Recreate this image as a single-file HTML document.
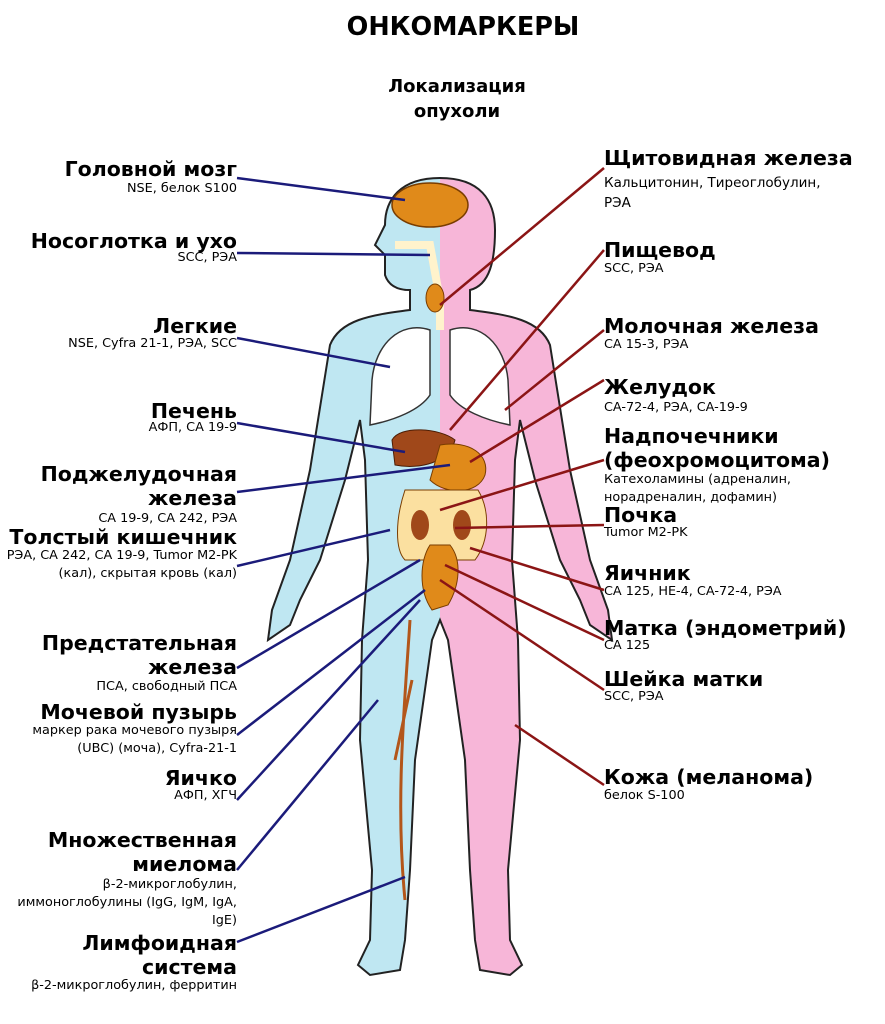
<!DOCTYPE html>
<html><head><meta charset="utf-8"><style>
body{margin:0;width:885px;height:1024px;background:#fff;position:relative;overflow:hidden;font-family:"DejaVu Sans","Liberation Sans",sans-serif;color:#000}
.t{position:absolute;white-space:nowrap}
.h{font-weight:bold;font-size:20.5px;line-height:24px}
.s{font-size:12.8px;line-height:18px}
.L{right:648px;text-align:right}
.R{left:604px;text-align:left}
svg{position:absolute;left:0;top:0}
</style></head><body>
<svg width="885" height="1024">
<defs>
<clipPath id="lc"><rect x="0" y="0" width="440" height="1024"/></clipPath>
<clipPath id="rc"><rect x="440" y="0" width="445" height="1024"/></clipPath>
<path id="body" d="M440,178 C400,178 385,200 385,225 L375,245 L385,255 L385,275 C390,290 405,290 410,290 L410,310 C370,315 340,320 330,345 L310,470 L290,560 L272,610 L268,640 L290,625 L300,600 L320,560 L345,480 L360,420 L365,460 L368,560 L362,640 L360,740 L372,870 L370,940 L358,965 L370,975 L400,970 L405,940 L410,870 L415,760 L432,640 L440,620 L448,640 L465,760 L470,870 L475,940 L480,970 L510,975 L522,965 L510,940 L508,870 L520,740 L518,640 L512,560 L515,460 L520,420 L535,480 L560,560 L580,600 L590,625 L612,640 L608,610 L590,560 L570,470 L550,345 C540,320 510,315 470,310 L470,290 C490,285 495,260 495,230 C495,200 480,178 440,178 Z"/>
</defs>
<use href="#body" fill="#bfe7f2" clip-path="url(#lc)"/>
<use href="#body" fill="#f7b6d8" clip-path="url(#rc)"/>
<use href="#body" fill="none" stroke="#222" stroke-width="2"/>
<ellipse cx="430" cy="205" rx="38" ry="22" fill="#e08a1a" stroke="#7a3d00" stroke-width="1.5"/>
<path d="M395,245 L430,245 L440,300 L440,330" fill="none" stroke="#fff3cc" stroke-width="8"/>
<ellipse cx="435" cy="298" rx="9" ry="14" fill="#e08a1a" stroke="#7a3d00"/>
<path d="M430,330 C400,320 375,345 372,380 L370,425 C395,420 420,410 430,395 Z" fill="#fff" stroke="#333" stroke-width="1.5"/>
<path d="M450,330 C480,320 505,345 508,380 L510,425 C485,420 460,410 450,395 Z" fill="#fff" stroke="#333" stroke-width="1.5"/>
<path d="M392,440 C400,425 440,428 455,440 C450,462 420,470 395,465 Z" fill="#a0481a" stroke="#4d1e05"/>
<path d="M440,445 C470,440 490,455 485,475 C478,495 445,495 430,480 Z" fill="#e08a1a" stroke="#7a3d00"/>
<path d="M405,490 C395,520 395,550 405,560 L475,560 C490,540 490,510 478,490 Z" fill="#fbe0a0" stroke="#7a3d00"/>
<ellipse cx="420" cy="525" rx="9" ry="15" fill="#a0481a"/>
<ellipse cx="462" cy="525" rx="9" ry="15" fill="#a0481a"/>
<path d="M430,545 C420,560 418,590 432,610 L448,605 C460,585 462,560 450,545 Z" fill="#e08a1a" stroke="#7a3d00"/>
<path d="M410,620 C405,700 395,800 405,900 M412,680 L395,760" fill="none" stroke="#b3561a" stroke-width="3"/>
<g stroke="#1b1b7a" stroke-width="2.5" fill="none">
<line x1="237" y1="178" x2="405" y2="200"/>
<line x1="237" y1="253" x2="430" y2="255"/>
<line x1="237" y1="338" x2="390" y2="367"/>
<line x1="237" y1="423" x2="405" y2="452"/>
<line x1="237" y1="492" x2="450" y2="465"/>
<line x1="237" y1="566" x2="390" y2="530"/>
<line x1="237" y1="668" x2="420" y2="560"/>
<line x1="237" y1="735" x2="425" y2="590"/>
<line x1="237" y1="800" x2="420" y2="600"/>
<line x1="237" y1="870" x2="378" y2="700"/>
<line x1="237" y1="942" x2="405" y2="877"/>
</g>
<g stroke="#8b1515" stroke-width="2.5" fill="none">
<line x1="604" y1="168" x2="440" y2="305"/>
<line x1="604" y1="250" x2="450" y2="430"/>
<line x1="604" y1="330" x2="505" y2="410"/>
<line x1="604" y1="380" x2="470" y2="462"/>
<line x1="604" y1="460" x2="440" y2="510"/>
<line x1="604" y1="525" x2="455" y2="528"/>
<line x1="604" y1="590" x2="470" y2="548"/>
<line x1="604" y1="640" x2="445" y2="565"/>
<line x1="604" y1="690" x2="440" y2="580"/>
<line x1="604" y1="785" x2="515" y2="725"/>
</g>
</svg>
<div class="t" style="left:0;width:926px;text-align:center;top:12px;font-weight:bold;font-size:25.5px">ОНКОМАРКЕРЫ</div>
<div class="t" style="left:357px;width:200px;text-align:center;top:74px;font-weight:bold;font-size:18px;line-height:25px">Локализация<br>опухоли</div>

<div class="t L h" style="top:157px">Головной мозг</div><div class="t L s" style="top:180px">NSE, белок S100</div>
<div class="t L h" style="top:229px">Носоглотка и ухо</div><div class="t L s" style="top:249px">SCC, РЭА</div>
<div class="t L h" style="top:314px">Легкие</div><div class="t L s" style="top:335px">NSE, Cyfra 21-1, РЭА, SCC</div>
<div class="t L h" style="top:399px">Печень</div><div class="t L s" style="top:419px">АФП, CA 19-9</div>
<div class="t L h" style="top:462px">Поджелудочная<br>железа</div><div class="t L s" style="top:510px">CA 19-9, CA 242, РЭА</div>
<div class="t L h" style="top:525px">Толстый кишечник</div><div class="t L s" style="top:547px">РЭА, CA 242, CA 19-9, Tumor M2-PK<br>(кал), скрытая кровь (кал)</div>
<div class="t L h" style="top:631px">Предстательная<br>железа</div><div class="t L s" style="top:678px">ПСА, свободный ПСА</div>
<div class="t L h" style="top:700px">Мочевой пузырь</div><div class="t L s" style="top:722px">маркер рака мочевого пузыря<br>(UBC) (моча), Cyfra-21-1</div>
<div class="t L h" style="top:766px">Яичко</div><div class="t L s" style="top:787px">АФП, ХГЧ</div>
<div class="t L h" style="top:828px">Множественная<br>миелома</div><div class="t L s" style="top:876px">β-2-микроглобулин,<br>иммоноглобулины (IgG, IgM, IgA,<br>IgE)</div>
<div class="t L h" style="top:931px">Лимфоидная<br>система</div><div class="t L s" style="top:977px">β-2-микроглобулин, ферритин</div>

<div class="t R h" style="top:146px">Щитовидная железа</div><div class="t R s" style="top:173px;font-size:13.5px;line-height:20px">Кальцитонин, Тиреоглобулин,<br>РЭА</div>
<div class="t R h" style="top:238px">Пищевод</div><div class="t R s" style="top:260px">SCC, РЭА</div>
<div class="t R h" style="top:314px">Молочная железа</div><div class="t R s" style="top:336px">CA 15-3, РЭА</div>
<div class="t R h" style="top:375px">Желудок</div><div class="t R s" style="top:399px">CA-72-4, РЭА, CA-19-9</div>
<div class="t R h" style="top:424px">Надпочечники<br>(феохромоцитома)</div><div class="t R s" style="top:471px">Катехоламины (адреналин,<br>норадреналин, дофамин)</div>
<div class="t R h" style="top:503px">Почка</div><div class="t R s" style="top:524px">Tumor M2-PK</div>
<div class="t R h" style="top:561px">Яичник</div><div class="t R s" style="top:583px">CA 125, HE-4, CA-72-4, РЭА</div>
<div class="t R h" style="top:616px">Матка (эндометрий)</div><div class="t R s" style="top:637px">CA 125</div>
<div class="t R h" style="top:667px">Шейка матки</div><div class="t R s" style="top:688px">SCC, РЭА</div>
<div class="t R h" style="top:765px">Кожа (меланома)</div><div class="t R s" style="top:787px">белок S-100</div>
</body></html>
